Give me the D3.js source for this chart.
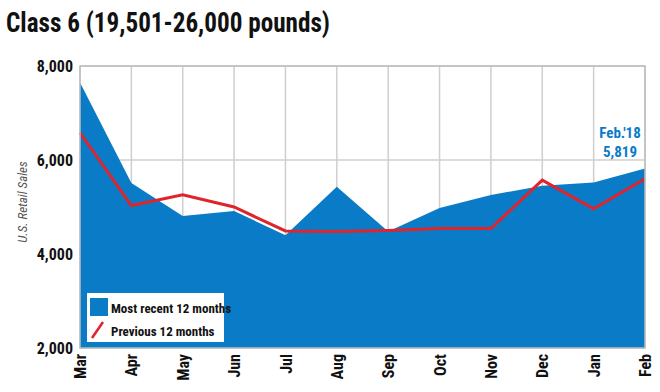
<!DOCTYPE html>
<html>
<head>
<meta charset="utf-8">
<script src="https://cdn.jsdelivr.net/npm/d3@7/dist/d3.min.js"></script>
<style>
  body { margin: 0; background: #fff; }
  svg text { font-family: "Liberation Sans Narrow", "Roboto Condensed", "Liberation Sans", sans-serif; }
</style>
</head>
<body>
<div id="chart"></div>
<script>
var months = ["Mar","Apr","May","Jun","Jul","Aug","Sep","Oct","Nov","Dec","Jan","Feb"];
var recent = [7650, 5510, 4810, 4915, 4400, 5430, 4480, 4980, 5255, 5450, 5520, 5819];
var previous = [6580, 5030, 5260, 5000, 4490, 4480, 4500, 4540, 4540, 5570, 4960, 5600];
var yTicks = [2000, 4000, 6000, 8000];

var width = 660, height = 392;
var margin = {top: 66, right: 15, bottom: 44, left: 80};
var w = width - margin.left - margin.right,
    h = height - margin.top - margin.bottom;

var blue = "#0a7bc6", red = "#e0242c";

var svg = d3.select("#chart").append("svg")
    .attr("width", width)
    .attr("height", height);

// title
svg.append("text")
    .attr("x", 6)
    .attr("y", 32)
    .attr("textLength", 324)
    .attr("lengthAdjust", "spacingAndGlyphs")
    .style("font-size", "27px")
    .style("font-weight", "bold")
    .style("fill", "#111")
    .text("Class 6 (19,501-26,000 pounds)");

var g = svg.append("g")
    .attr("transform", "translate(" + margin.left + "," + margin.top + ")");

var x = d3.scalePoint()
    .domain(months)
    .range([0, w]);

var y = d3.scaleLinear()
    .domain([2000, 8000])
    .range([h, 0]);

// grid
g.selectAll(".hgrid")
    .data(yTicks)
    .enter()
    .append("line")
    .attr("x1", 0).attr("x2", w)
    .attr("y1", function(d) { return y(d); })
    .attr("y2", function(d) { return y(d); })
    .style("stroke", "#cfcfcf")
    .style("stroke-width", 1.5);

g.selectAll(".vgrid")
    .data(months)
    .enter()
    .append("line")
    .attr("x1", function(d) { return x(d); })
    .attr("x2", function(d) { return x(d); })
    .attr("y1", 0).attr("y2", h)
    .style("stroke", "#cfcfcf")
    .style("stroke-width", 1.5);

// area
var area = d3.area()
    .x(function(d, i) { return x(months[i]); })
    .y0(h)
    .y1(function(d) { return y(d); });

g.append("path")
    .datum(recent)
    .attr("d", area)
    .style("fill", blue);

// line
var line = d3.line()
    .x(function(d, i) { return x(months[i]); })
    .y(function(d) { return y(d); });

g.append("path")
    .datum(previous)
    .attr("d", line)
    .style("fill", "none")
    .style("stroke", red)
    .style("stroke-width", 3)
    .style("stroke-linejoin", "miter");

// y axis
var yAxis = g.append("g")
    .call(d3.axisLeft(y).tickValues(yTicks).tickSize(0).tickPadding(7).tickFormat(d3.format(",")));
yAxis.select(".domain").remove();
yAxis.selectAll("text")
    .style("font-size", "16px")
    .style("font-weight", "bold")
    .style("fill", "#111");

// x axis
var xAxis = g.append("g")
    .attr("transform", "translate(0," + h + ")")
    .call(d3.axisBottom(x).tickSize(0));
xAxis.select(".domain").remove();
xAxis.selectAll("text")
    .attr("transform", "rotate(-90)")
    .attr("x", -6)
    .attr("y", 0)
    .attr("dy", "0.35em")
    .style("text-anchor", "end")
    .style("font-size", "16px")
    .style("font-weight", "bold")
    .style("fill", "#111");

// y title
svg.append("text")
    .attr("transform", "translate(27," + (margin.top + h / 2 - 5) + ") rotate(-90)")
    .attr("text-anchor", "middle")
    .style("font-size", "13px")
    .style("font-style", "italic")
    .style("fill", "#555")
    .text("U.S. Retail Sales");

// annotation
var last = months[months.length - 1];
var lastY = y(recent[recent.length - 1]);
g.append("text")
    .attr("x", x(last) - 25)
    .attr("y", lastY - 31)
    .attr("text-anchor", "middle")
    .style("font-size", "15px")
    .style("font-weight", "bold")
    .style("fill", blue)
    .text("Feb.'18");
g.append("text")
    .attr("x", x(last) - 25)
    .attr("y", lastY - 12)
    .attr("text-anchor", "middle")
    .style("font-size", "15px")
    .style("font-weight", "bold")
    .style("fill", blue)
    .text(d3.format(",")(recent[recent.length - 1]));

// legend
var leg = svg.append("g").attr("transform", "translate(87,293)");
leg.append("rect")
    .attr("width", 137).attr("height", 49)
    .style("fill", "#fff");
leg.append("rect")
    .attr("x", 3).attr("y", 5)
    .attr("width", 18).attr("height", 18)
    .style("fill", blue);
leg.append("line")
    .attr("x1", 5).attr("y1", 45)
    .attr("x2", 16).attr("y2", 29)
    .style("stroke", red)
    .style("stroke-width", 2.5);
leg.append("text")
    .attr("x", 24).attr("y", 20)
    .style("font-size", "13px")
    .style("font-weight", "bold")
    .style("fill", "#111")
    .text("Most recent 12 months");
leg.append("text")
    .attr("x", 24).attr("y", 43)
    .style("font-size", "13px")
    .style("font-weight", "bold")
    .style("fill", "#111")
    .text("Previous 12 months");

// plot border
g.append("rect")
    .attr("width", w).attr("height", h)
    .style("fill", "none")
    .style("stroke", "#bdbdbd")
    .style("stroke-width", 1.5);
</script>
</body>
</html>
